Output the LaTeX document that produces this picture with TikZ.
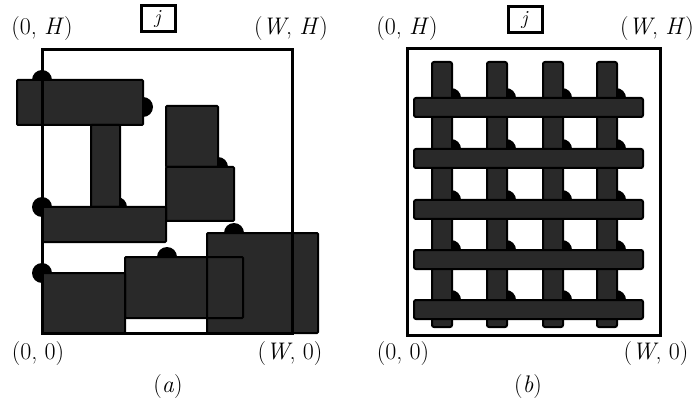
\documentclass[tikz,border=0pt]{standalone}
\begin{document}
\begin{tikzpicture}[x=1pt,y=-1pt,
  blkfill/.style={fill=black!84},
  blkedge/.style={draw=black,line width=2pt},
  frm/.style={draw=black,line width=3pt},
  lbl/.style={font=\fontsize{24}{28}\selectfont, inner sep=0pt},
  jbox/.style={draw=black,line width=3pt,minimum width=34pt,minimum height=26pt,inner sep=0pt,font=\fontsize{20}{22}\selectfont}]
\useasboundingbox (0,0) rectangle (695,403);

% ---------- panel (a) ----------
\foreach \x/\y in {42/80,143/107,218/167,42/207,117/207,42/273,167/257,234/233}
  \fill (\x,\y) circle[radius=10pt];
\foreach \a/\b/\c/\d in {17/80/143/125, 91/125/120/207, 166/106/218/167, 166/167/234/221, 42/207/166/242, 42/273/125/333, 125/257/243/318, 207/233/318/333}
  \fill[blkfill,rounded corners=1pt] (\a,\b) rectangle (\c,\d);
\foreach \a/\b/\c/\d in {17/80/143/125, 91/125/120/207, 166/106/218/167, 166/167/234/221, 42/207/166/242, 42/273/125/333, 125/257/243/318, 207/233/318/333}
  \draw[blkedge,rounded corners=1pt] (\a,\b) rectangle (\c,\d);
\draw[frm] (42,50) rectangle (292,333);

\node[jbox] (ja) at (158,19) {\textit{j}};
\node[lbl] (a0H) at (42,29) {(0, \textit{H})};
\node[lbl] (aWH) at (291,29) {(\textit{W}, \textit{H})};
\node[lbl] (a00) at (38,354) {(0, 0)};
\node[lbl] (aW0) at (290,354) {(\textit{W}, 0)};
\node[lbl] (acap) at (168,387) {(\textit{a})};

% ---------- panel (b) ----------
\foreach \xl in {432,487,543,597}
  \foreach \yt in {98,149,200,250,300}
    \fill ({\xl+19},\yt) circle[radius=10pt];
\foreach \xl in {432,487,543,597}
  \draw[blkfill,blkedge,rounded corners=2pt] (\xl,62) rectangle ({\xl+20},327);
\foreach \yt in {98,149,200,250,300}
  \draw[blkfill,blkedge,rounded corners=2pt] (414,\yt) rectangle (643,{\yt+19});
\draw[frm] (407,49) rectangle (660,335);

\node[jbox] (jb) at (525,20) {\textit{j}};
\node[lbl] (b0H) at (407,29) {(0, \textit{H})};
\node[lbl] (bWH) at (657,29) {(\textit{W}, \textit{H})};
\node[lbl] (b00) at (403,354) {(0, 0)};
\node[lbl] (bW0) at (656,354) {(\textit{W}, 0)};
\node[lbl] (bcap) at (528,387) {(\textit{b})};
\end{tikzpicture}
\end{document}
